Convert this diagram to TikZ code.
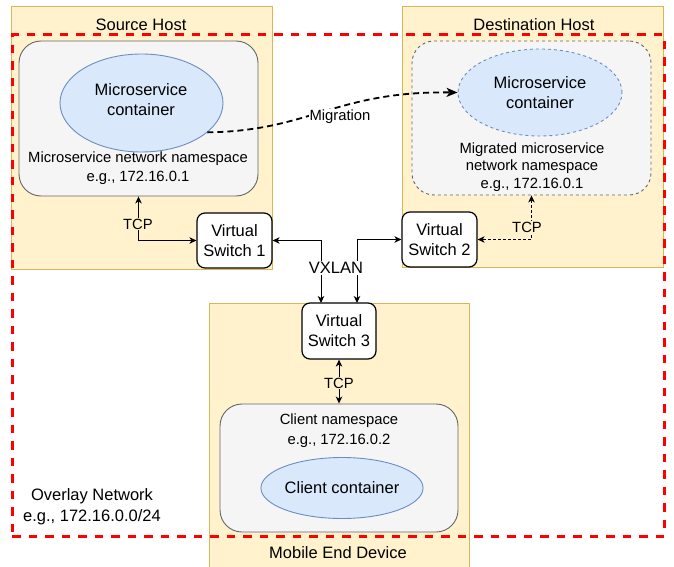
\documentclass[tikz,border=0pt]{standalone}
\usepackage{fontspec}
\setmainfont{Liberation Sans}
\usetikzlibrary{arrows.meta,shapes.geometric}
\definecolor{hostfill}{HTML}{FFF2CC}
\definecolor{hostdraw}{HTML}{D6B656}
\definecolor{nsfill}{HTML}{F5F5F5}
\definecolor{nsdraw}{HTML}{666666}
\definecolor{ctfill}{HTML}{DAE8FC}
\definecolor{ctdraw}{HTML}{6C8EBF}
\definecolor{ovred}{HTML}{FF0000}
\tikzset{
  big/.style={font=\fontsize{16.5}{20}\selectfont},
  small/.style={font=\fontsize{14.8}{19}\selectfont},
  hostbox/.style={draw=hostdraw, fill=hostfill, line width=1pt, rectangle, inner sep=0pt},
  nsbox/.style={draw=nsdraw, fill=nsfill, line width=0.9pt, rectangle, rounded corners=22pt, inner sep=0pt},
  ctell/.style={draw=ctdraw, fill=ctfill, line width=0.9pt, ellipse, inner sep=0pt},
  switchbox/.style={draw=black, fill=white, line width=1.2pt, rectangle, rounded corners=8pt, inner sep=0pt, align=center, big},
  conn/.style={draw=black, line width=1pt, {Stealth[length=7pt,width=6.5pt,inset=2pt]}-{Stealth[length=7pt,width=6.5pt,inset=2pt]}},
  dotconn/.style={conn, dash pattern=on 2.5pt off 2.5pt},
  migconn/.style={draw=black, line width=1.8pt, dash pattern=on 6pt off 4pt, -{Stealth[length=11pt,width=9pt,inset=3pt]}},
  lbl/.style={inner sep=1pt, align=center},
}
\begin{document}
\begin{tikzpicture}[x=1pt,y=-1pt]
\useasboundingbox (0,0) rectangle (674,567);
% host areas
\node[hostbox, minimum width=261pt, minimum height=262pt] (srchost) at (141.5,138) {};
\node[hostbox, minimum width=261pt, minimum height=260pt] (dsthost) at (532.5,137) {};
\node[hostbox, minimum width=260pt, minimum height=265pt] (mobhost) at (339,435.5) {};
\node[big, lbl] (srctitle) at (141,25) {Source Host};
\node[big, lbl] (dsttitle) at (534,25) {Destination Host};
\node[big, lbl] (mobtitle) at (338,553) {Mobile End Device};
% overlay network
\node[draw=ovred, line width=3pt, dash pattern=on 8.5pt off 8pt, rectangle, inner sep=0pt,
      minimum width=652pt, minimum height=501pt] (overlay) at (338,285.5) {};
\node[big, lbl, align=center, font=\fontsize{16.5}{21}\selectfont] (ovtext) at (92,507) {Overlay Network\\e.g., 172.16.0.0/24};
% namespaces
\node[nsbox, minimum width=239pt, minimum height=155pt] (srcns) at (138.5,118.5) {};
\node[nsbox, dash pattern=on 3pt off 3pt, minimum width=239pt, minimum height=154pt] (dstns) at (531.5,118) {};
\node[nsbox, minimum width=238pt, minimum height=128pt] (clins) at (339,468) {};
\node[small, lbl] (srcnstext) at (138,168) {Microservice network namespace\\e.g., 172.16.0.1};
\node[small, lbl, font=\fontsize{14.8}{17.5}\selectfont] (dstnstext) at (532,167) {Migrated microservice\\network namespace\\e.g., 172.16.0.1};
\node[small, lbl, font=\fontsize{14.8}{20}\selectfont] (clinstext) at (339,431) {Client namespace\\e.g., 172.16.0.2};
% containers
\node[ctell, minimum width=163pt, minimum height=98pt] (srcct) at (141.5,103) {};
\node[big, lbl] (srccttext) at (141,99.5) {Microservice\\container};
\node[ctell, dash pattern=on 3pt off 3pt, minimum width=164pt, minimum height=87pt, big, align=center] (dstct) at (540,92.5) {Microservice\\container};
\node[ctell, minimum width=148pt, minimum height=61pt, big] (clict) at (342,488) {Client container};
% switches
\node[switchbox, minimum width=75pt, minimum height=55pt] (vs1) at (234.5,240.5) {Virtual\\Switch 1};
\node[switchbox, minimum width=75pt, minimum height=55pt] (vs2) at (439.5,239.5) {Virtual\\Switch 2};
\node[switchbox, minimum width=74pt, minimum height=56pt] (vs3) at (339,331) {Virtual\\Switch 3};
\coordinate (vx1) at (321,303);
\coordinate (vx2) at (357,303);
% connectors
\draw[conn] (srcns.south) |- (vs1.west);
\node[small, lbl, fill=hostfill] (tcp1) at (138,224) {TCP};
\draw[conn] (vs1.east) -| (vx1);
\draw[conn] (vs2.west) -| (vx2);
\node[big, lbl, fill=white] (vxlan) at (336,268) {VXLAN};
\draw[conn] (vs3.south) -- (clins.north);
\node[small, lbl, fill=hostfill] (tcp3) at (339,383) {TCP};
\draw[dotconn] (dstns.south) |- (vs2.east);
\node[small, lbl, fill=hostfill] (tcp2) at (527,227) {TCP};
\draw[migconn] (srcct.-24) .. controls (310,131) and (335,91) .. (dstct.west);
\node[small, lbl, fill=white] (mig) at (340,117) {Migration};
\end{tikzpicture}
\end{document}
